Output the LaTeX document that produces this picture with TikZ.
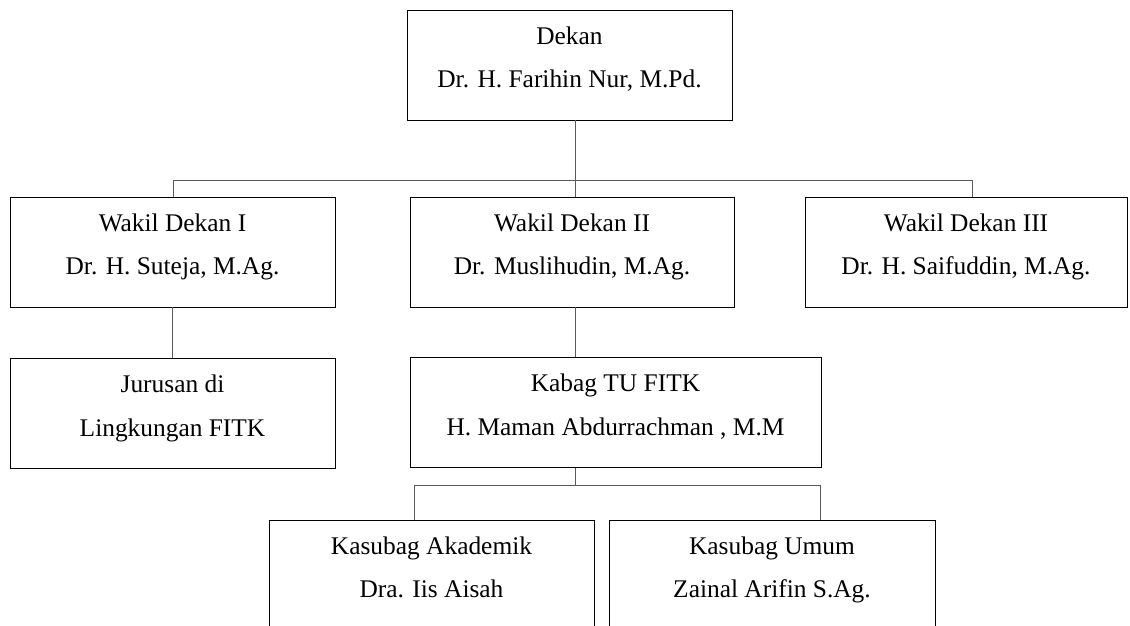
\documentclass[tikz,border=0pt]{standalone}
\usepackage{fontspec}
\setmainfont{Liberation Serif}
\usepackage{xcolor}
\usepackage{tikz}
\definecolor{linkGray}{RGB}{90,90,90}

\begin{document}
\begin{tikzpicture}[x=1pt,y=-1pt,
  unit/.style={draw=black,line width=0.9pt,rectangle,inner xsep=0pt,inner ysep=0pt,align=center,
    text height=77.5pt,text depth=32.5pt,font=\fontsize{25.4}{43.5}\selectfont},
  link/.style={draw=linkGray,line width=1pt}]
  \useasboundingbox (0,0) rectangle (1130,626);
  \def\unitw{325pt}
  \node[unit,minimum width=\unitw] (dekan) at (569.5,65) {Dekan\\Dr. H. Farihin Nur, M.Pd.};
  \node[unit,minimum width=\unitw] (wdI) at (172.5,252) {Wakil Dekan I\\Dr. H. Suteja, M.Ag.};
  \node[unit,minimum width=324pt] (wdII) at (572,252) {Wakil Dekan II\\Dr. Muslihudin, M.Ag.};
  \node[unit,minimum width=322pt] (wdIII) at (966,252) {Wakil Dekan III\\Dr. H. Saifuddin, M.Ag.};
  \node[unit,minimum width=\unitw] (jurusan) at (172.5,413.5) {Jurusan di\\Lingkungan FITK};
  \node[unit,minimum width=411pt] (kabag) at (615.5,412.5) {Kabag TU FITK\\H. Maman Abdurrachman , M.M};
  \node[unit,minimum width=\unitw] (akademik) at (431.5,575) {Kasubag Akademik\\Dra. Iis Aisah};
  \node[unit,minimum width=326pt] (umum) at (772,575) {Kasubag Umum\\Zainal Arifin S.Ag.};
  % bus lines
  \coordinate (trunk) at (575,180);
  \coordinate (busL) at (173,180);
  \coordinate (busR) at (972,180);
  \coordinate (subL) at (414,485);
  \coordinate (subR) at (820,485);
  \draw[link] (dekan.south -| trunk) -- (trunk |- wdII.north);
  \draw[link] (busL |- wdI.north) -- (busL) -- (busR) -- (busR |- wdIII.north);
  \draw[link] (wdI.south) -- (jurusan.north);
  \draw[link] (trunk |- wdII.south) -- (trunk |- kabag.north);
  \draw[link] (trunk |- kabag.south) -- (trunk |- subL);
  \draw[link] (subL |- akademik.north) -- (subL) -- (subR) -- (subR |- umum.north);
\end{tikzpicture}
\end{document}
